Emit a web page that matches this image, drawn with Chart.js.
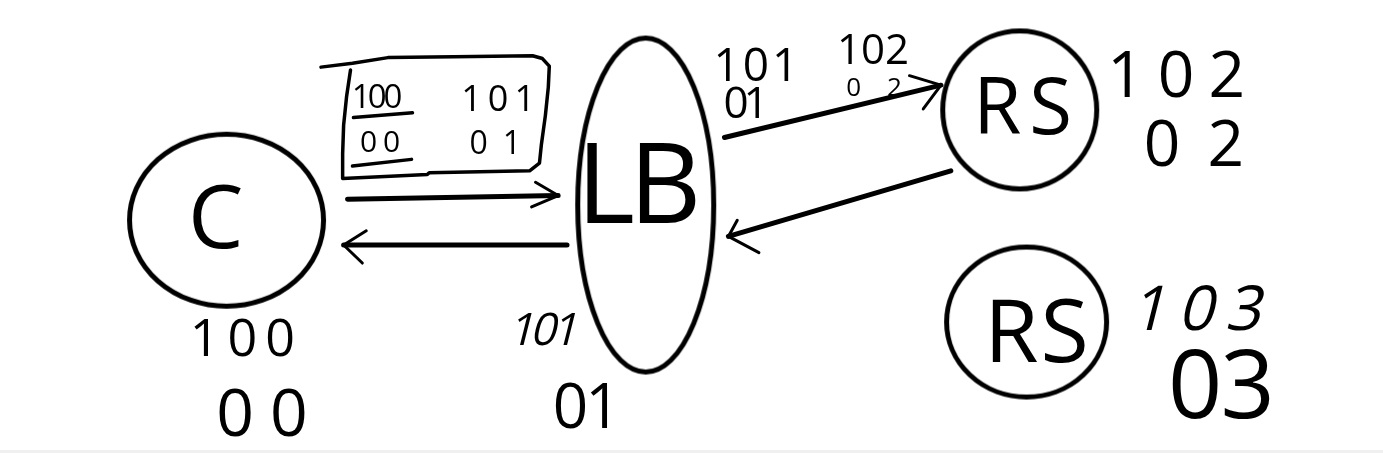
<!DOCTYPE html>
<html>
<head>
<meta charset="utf-8">
<script src="https://cdn.jsdelivr.net/npm/chart.js@4.4.1/dist/chart.umd.min.js"></script>
<style>
html,body{margin:0;padding:0;background:#fff;overflow:hidden;}
#wrap{width:1383px;height:450px;background:#fff;}
#band{width:1383px;height:3px;background:#f0f0f0;}
</style>
</head>
<body>
<div id="wrap"><canvas id="c" width="1383" height="450"></canvas></div>
<div id="band"></div>
<script>
// ---- nodes (circles / ellipse) ----
const nodeNames = ["C", "LB", "RS", "RS"];
const nodeX  = [219, 645, 1025, 1032];
const nodeY  = [220, 204, 104, 327];
const nodeRx = [97, 68, 77, 80];
const nodeRy = [86, 167, 79, 75];

// ---- arrows: shaft start, tip, and two head ends ----
const arrowFromX = [342, 565, 725, 955];
const arrowFromY = [198, 246, 133, 168];
const arrowToX   = [556, 338, 945, 729];
const arrowToY   = [194, 246, 78, 237];
const headAX = [533, 361, 913, 738];
const headAY = [180, 231, 68, 220];
const headBX = [529, 357, 927, 760];
const headBY = [206, 265, 103, 254];

// ---- the hand-drawn box and underlines ----
const boxX = [315, 347, 383, 450, 530, 540, 547, 546, 543, 539, 537, 527, 425, 423, 337, 337, 338, 341, 345];
const boxY = [59, 55, 49, 48, 47, 50, 58, 80, 110, 140, 160, 168, 170, 172, 176, 150, 120, 90, 62];
const underline1X = [348, 408];
const underline1Y = [112, 107];
const underline2X = [347, 407];
const underline2Y = [163, 156];

// ---- handwritten labels ----
const labelText = ["100", "00", "101", "01", "100", "00", "101", "01", "101", "01", "102", "02", "102", "02", "103", "03"];
const labelX    = [372, 375, 495, 492, 235, 255, 540, 585, 757, 747, 876, 877, 1184, 1202, 1203, 1230];
const labelY    = [90, 137, 92, 138, 343, 422, 334, 415, 56, 96, 40, 80, 66, 139, 312, 392];
const labelSize = [33, 30, 36, 32, 52, 66, 45, 62, 46, 44, 42, 26, 64, 64, 62, 95];
const labelGap  = [-3, 6, 6, 15, 8, 16, -4, -3, 3, -5, 0, 26, 14, 27, 12, -2];
const labelSlant= [0, 0, 0, 0, 0, 0, 1, 0, 0, 0, 0, 0, 0, 0, 1, 0];

// node inner text sizes
const nodeTextSize = [88, 112, 78, 88];
const nodeTextGap  = [0, -6, 8, 2];
const nodeTextDX   = [-11, -7, 3, 10];
const nodeTextDY   = [-4, -24, -4, 9];

const FONT = '"Open Sans", "DejaVu Sans", sans-serif';
const INK = '#000';

function ellipseStyle(rx, ry, lw) {
  const cv = document.createElement('canvas');
  cv.width = Math.ceil(2 * rx + lw + 4);
  cv.height = Math.ceil(2 * ry + lw + 4);
  const g = cv.getContext('2d');
  g.strokeStyle = INK;
  g.lineWidth = lw;
  g.beginPath();
  g.ellipse(cv.width / 2, cv.height / 2, rx, ry, 0, 0, Math.PI * 2);
  g.stroke();
  return cv;
}

const datasets = [];
// nodes
datasets.push({
  label: 'nodes',
  data: nodeX.map((x, i) => ({x: x, y: nodeY[i]})),
  pointStyle: nodeX.map((x, i) => ellipseStyle(nodeRx[i], nodeRy[i], 5)),
  pointRadius: 10,
  showLine: false
});
function poly(xs, ys, w) {
  return {
    data: xs.map((x, i) => ({x: x, y: ys[i]})),
    showLine: true, borderColor: INK, borderWidth: w,
    pointRadius: 0, borderCapStyle: 'round', borderJoinStyle: 'round',
    tension: 0, fill: false
  };
}
for (let i = 0; i < arrowFromX.length; i++) {
  datasets.push(poly([arrowFromX[i], arrowToX[i]], [arrowFromY[i], arrowToY[i]], 5));
  datasets.push(poly([headAX[i], arrowToX[i], headBX[i]], [headAY[i], arrowToY[i], headBY[i]], 3));
}
datasets.push(poly(boxX, boxY, 3.5));
datasets.push(poly(underline1X, underline1Y, 3.5));
datasets.push(poly(underline2X, underline2Y, 3.5));

const textPlugin = {
  id: 'handText',
  afterDatasetsDraw(chart) {
    const ctx = chart.ctx, sx = chart.scales.x, sy = chart.scales.y;
    function draw(t, x, y, size, gap, slant) {
      ctx.save();
      ctx.font = '400 ' + size + 'px ' + FONT;
      ctx.fillStyle = INK;
      ctx.textAlign = 'center';
      ctx.textBaseline = 'alphabetic';
      try { ctx.letterSpacing = gap + 'px'; } catch (e) {}
      const px = sx.getPixelForValue(x) + gap / 2;
      const py = sy.getPixelForValue(y) + size * 0.36;
      ctx.translate(px, py);
      if (slant) ctx.transform(1, 0, -0.25, 1, 0, 0);
      ctx.fillText(t, 0, 0);
      ctx.restore();
    }
    for (let i = 0; i < labelText.length; i++) {
      draw(labelText[i], labelX[i], labelY[i], labelSize[i], labelGap[i], labelSlant[i]);
    }
    for (let i = 0; i < nodeNames.length; i++) {
      draw(nodeNames[i], nodeX[i] + nodeTextDX[i], nodeY[i] + nodeTextDY[i], nodeTextSize[i], nodeTextGap[i], 0);
    }
  }
};

new Chart(document.getElementById('c'), {
  type: 'scatter',
  data: {datasets: datasets},
  options: {
    responsive: false,
    maintainAspectRatio: false,
    animation: false,
    devicePixelRatio: 1,
    layout: {padding: 0},
    plugins: {legend: {display: false}, tooltip: {enabled: false}},
    elements: {line: {borderColor: INK}, point: {borderColor: INK, backgroundColor: INK}},
    scales: {
      x: {type: 'linear', min: 0, max: 1383, display: false},
      y: {type: 'linear', min: 0, max: 450, reverse: true, display: false}
    }
  },
  plugins: [textPlugin]
});
</script>
</body>
</html>
